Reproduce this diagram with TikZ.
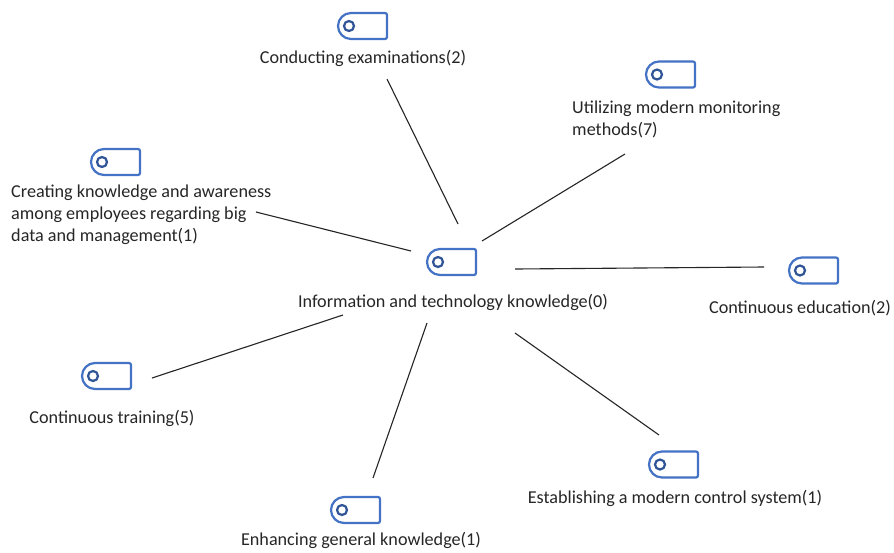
\documentclass[tikz,border=0pt]{standalone}
\usepackage{fontspec}
\setmainfont{Carlito}
\definecolor{tagblue}{HTML}{4472C4}
\definecolor{holeblue}{HTML}{2F5597}
\tikzset{
    tagicon/.pic = {
        \draw[color = tagblue, line width = 1.9pt, line join = round] (24.5, -11) -- (24.5, 11) arc (0 : 90 : 2) -- (-11.5, 13) arc (90 : 270 : 13) -- (22.5, -13) arc (270 : 360 : 2) -- cycle;
        \draw[color = holeblue, line width = 1.9pt] (-13.5, 0) circle (5);
    },
    caption/.style = {font = \fontsize{15.5pt}{18.7pt}\selectfont, text = black!85, inner sep = 0pt, align = left},
    link/.style = {color = black!85, line width = 0.95pt}
}
\begin{document}
\begin{tikzpicture}[x = 0.03cm, y = -0.03cm]
        \useasboundingbox (0, 0) rectangle (894, 552);
        \pic at (451.5, 262) {tagicon};
        \pic at (362.5, 26) {tagicon};
        \pic at (670.5, 74.5) {tagicon};
        \pic at (115.5, 162) {tagicon};
        \pic at (813.5, 270.5) {tagicon};
        \pic at (106.5, 376) {tagicon};
        \pic at (355.5, 510) {tagicon};
        \pic at (673.5, 464.5) {tagicon};

        \node[caption] (hub) at (453, 302) {Information and technology knowledge(0)};
        \node[caption] (exams) at (363, 58) {Conducting examinations(2)};
        \node[caption, anchor = west] (monitoring) at (572, 119.5) {Utilizing modern monitoring\\methods(7)};
        \node[caption, anchor = west] (awareness) at (11, 214.5) {Creating knowledge and awareness\\among employees regarding big\\data and management(1)};
        \node[caption] (education) at (800, 308) {Continuous education(2)};
        \node[caption] (training) at (112, 418) {Continuous training(5)};
        \node[caption] (enhancing) at (361, 540) {Enhancing general knowledge(1)};
        \node[caption] (control) at (675, 498) {Establishing a modern control system(1)};

        \coordinate (hubexams) at (458, 224);
        \coordinate (hubmonitoring) at (482, 241);
        \coordinate (hubawareness) at (411, 251);
        \coordinate (hubeducation) at (515, 269);
        \coordinate (hubtraining) at (343, 315);
        \coordinate (hubenhancing) at (427, 323);
        \coordinate (hubcontrol) at (515, 333);
        \coordinate (endexams) at (387, 79);
        \coordinate (endmonitoring) at (625, 154);
        \coordinate (endawareness) at (256, 212);
        \coordinate (endeducation) at (764, 267);
        \coordinate (endtraining) at (152, 378);
        \coordinate (endenhancing) at (373, 478);
        \coordinate (endcontrol) at (659, 435);

        \draw[link] (hubexams) -- (endexams);
        \draw[link] (hubmonitoring) -- (endmonitoring);
        \draw[link] (hubawareness) -- (endawareness);
        \draw[link] (hubeducation) -- (endeducation);
        \draw[link] (hubtraining) -- (endtraining);
        \draw[link] (hubenhancing) -- (endenhancing);
        \draw[link] (hubcontrol) -- (endcontrol);
    \end{tikzpicture}
\end{document}
